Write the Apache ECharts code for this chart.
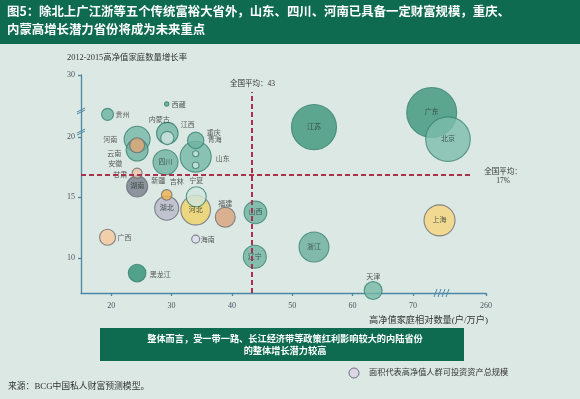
<!DOCTYPE html>
<html>
<head>
<meta charset="utf-8">
<script src="https://cdn.jsdelivr.net/npm/echarts@6/dist/echarts.min.js"></script>
<style>
  html, body { margin: 0; padding: 0; background: #dbe8e3; }
  #main { width: 580px; height: 399px; }
</style>
</head>
<body>
<div id="main"></div>
<script>
// data (x: households per 10k, y: growth %, asset: relative bubble area)
const provinces = ['广东','江苏','北京','山东','上海','浙江','河北','河南','四川','湖北','辽宁','山西','云南','新疆','湖南','宁夏','福建','天津','黑龙江','江西','广西','安徽','内蒙古','贵州','吉林','甘肃','海南','重庆','青海','西藏'];
const xVals  = [73.1, 53.6, 75.8, 34.0, 74.4, 53.6, 34.0, 24.3, 29.0, 29.2, 43.8, 43.9, 24.3, 29.3, 24.3, 34.1, 38.9, 63.4, 24.3, 34.0, 19.4, 24.3, 29.3, 19.4, 29.2, 24.3, 34.0, 34.0, 34.0, 29.2];
const yVals  = [22.0, 20.8, 19.8, 18.35, 13.1, 10.9, 13.95, 19.8, 17.9, 14.1, 10.1, 13.75, 18.9, 20.3, 15.9, 15.05, 13.35, 7.3, 8.75, 19.7, 11.7, 19.3, 19.9, 21.85, 15.2, 17.0, 11.55, 17.65, 18.6, 22.7];
const assets = [156, 127, 124, 60, 60, 56, 55, 42, 39, 36, 33, 32, 30, 29, 27.6, 25, 25, 20, 19.4, 17, 16, 14, 11, 9, 7, 6.3, 4, 2.7, 2.3, 1.2];

const xTicks = [20, 30, 40, 50, 60, 70, 82.1];
const xTickLabels = ['20', '30', '40', '50', '60', '70', '260'];
const yTicks = [10, 15, 20, 25.1];
const yTickLabels = ['10', '15', '20', '30'];
const avgX = 43.3;
const avgY = 16.85;

const fills = {
  '贵州':'#6cb3a0','西藏':'#5aa69a','河南':'#74b7a5','云南':'#6fb2a0','安徽':'#e3a877','甘肃':'#eec3a8',
  '湖南':'#7b7e8b','内蒙古':'#cfe4de','新疆':'#73b6a4','江西':'#6fb4a2','青海':'#cde4dd','重庆':'#cde4dd',
  '山东':'#74b7a5','四川':'#6fb3a0','吉林':'#f1b04c','湖北':'#bab9ca','宁夏':'#d0e6df','河北':'#f0d167',
  '福建':'#d8a17b','海南':'#dedcee','广西':'#f8c89c','黑龙江':'#2f8e72','山西':'#6db19f','辽宁':'#6fb3a0',
  '浙江':'#6aae9b','天津':'#76b8a6','江苏':'#3c9479','广东':'#3c9479','北京':'#7dbdab','上海':'#f8d47c'
};
const greyEdge = ['安徽','甘肃','湖南','吉林','湖北','河北','福建','海南','广西','上海'];
const insideLabel = ['湖南','四川','湖北','河北','山西','辽宁','浙江','江苏','广东','北京','上海'];
const labelOffsets = {
  '贵州':[15,1],'西藏':[12,1],'河南':[-27,1],'云南':[-23,4],'安徽':[-22,19],'甘肃':[-17,2],
  '内蒙古':[-8,-18],'新疆':[-9,48],'江西':[-8,-15],'青海':[19,-14],'重庆':[18,-32],'山东':[27,2],
  '吉林':[10,-13],'宁夏':[0,-16],'福建':[0,-13],'海南':[12,1],'广西':[17,1],'黑龙江':[23,2],'天津':[0,-13]
};

const FONT = "'Liberation Serif', 'Noto Sans CJK SC'";

const bubbles = provinces.map((name, i) => {
  const item = {
    name: name,
    value: [xVals[i], yVals[i], assets[i]],
    itemStyle: {
      color: fills[name],
      borderColor: greyEdge.includes(name) ? '#6a6c74' : '#3a8272',
      borderWidth: 1.1
    }
  };
  if (insideLabel.includes(name)) {
    item.label = { show: true, position: 'inside', color: '#2b3b35' };
  } else {
    item.label = { show: true, position: 'inside', offset: labelOffsets[name], color: '#333' };
  }
  return item;
});

function pickLabel(ticks, labels, v) {
  let best = 0;
  ticks.forEach((t, i) => { if (Math.abs(t - v) < Math.abs(ticks[best] - v)) best = i; });
  return labels[best];
}

const axisColor = '#4d87a6';
const chart = echarts.init(document.getElementById('main'));
chart.setOption({
  backgroundColor: '#dbe8e3',
  animation: false,
  grid: { left: 81, right: 94, top: 75, bottom: 106 },
  xAxis: {
    type: 'value',
    min: 15,
    max: 82.1,
    splitLine: { show: false },
    axisLine: { lineStyle: { color: axisColor, width: 1.3 } },
    axisTick: { customValues: xTicks, length: 3, lineStyle: { color: axisColor, width: 1.3 } },
    axisLabel: {
      customValues: xTicks, margin: 9, fontSize: 8, color: '#4b5660', fontFamily: FONT,
      formatter: v => pickLabel(xTicks, xTickLabels, v)
    }
  },
  yAxis: {
    type: 'value',
    min: 7.1,
    max: 25.1,
    splitLine: { show: false },
    axisLine: { show: true, lineStyle: { color: axisColor, width: 1.3 } },
    axisTick: { show: true, customValues: yTicks, length: 3, lineStyle: { color: axisColor, width: 1.3 } },
    axisLabel: {
      customValues: yTicks, margin: 6, fontSize: 8, color: '#4b5660', fontFamily: FONT,
      formatter: v => pickLabel(yTicks, yTickLabels, v)
    }
  },
  series: [{
    type: 'scatter',
    data: bubbles,
    symbolSize: d => 4 * Math.sqrt(d[2]),
    label: { fontSize: 7, fontFamily: FONT, formatter: '{b}' },
    emphasis: { disabled: true },
    markLine: {
      silent: true,
      symbol: 'none',
      label: { show: false },
      lineStyle: { color: '#a8324e', width: 2, type: [5, 3] },
      data: [
        [{ coord: [avgX, 7.1] }, { coord: [avgX, 23.7] }],
        [{ coord: [15, avgY] }, { coord: [79.85, avgY] }]
      ]
    }
  }],
  graphic: [
    { type: 'rect', left: 0, top: 0, shape: { width: 580, height: 44 }, style: { fill: '#0e6b4f' }, z: -1 },
    { type: 'text', left: 7, top: 5, style: { text: '图5：除北上广江浙等五个传统富裕大省外，山东、四川、河南已具备一定财富规模，重庆、', fill: '#fff', font: "bold 12.4px 'Noto Sans CJK SC'" } },
    { type: 'text', left: 7, top: 23, style: { text: '内蒙高增长潜力省份将成为未来重点', fill: '#fff', font: "bold 12.4px 'Noto Sans CJK SC'" } },
    { type: 'text', left: 67, top: 54, style: { text: '2012-2015高净值家庭数量增长率', fill: '#333', font: "8.4px " + FONT } },
    { type: 'text', left: 230, top: 80, style: { text: '全国平均：43', fill: '#333', font: "7.5px " + FONT } },
    { type: 'text', x: 503, y: 168, style: { text: '全国平均：\n17%', fill: '#333', font: "7.5px " + FONT, textAlign: 'center', lineHeight: 9 } },
    { type: 'text', right: 92, top: 316, style: { text: '高净值家庭相对数量(户/万户)', fill: '#333', font: "9.2px " + FONT } },
    // axis break marks
    { type: 'line', shape: { x1: 77, y1: 112, x2: 85, y2: 108 }, style: { stroke: axisColor, lineWidth: 1 } },
    { type: 'line', shape: { x1: 77, y1: 114, x2: 85, y2: 110 }, style: { stroke: axisColor, lineWidth: 1 } },
    { type: 'line', shape: { x1: 77, y1: 133, x2: 85, y2: 129 }, style: { stroke: axisColor, lineWidth: 1 } },
    { type: 'line', shape: { x1: 77, y1: 135, x2: 85, y2: 131 }, style: { stroke: axisColor, lineWidth: 1 } },
    { type: 'line', shape: { x1: 434, y1: 297, x2: 437, y2: 289 }, style: { stroke: axisColor, lineWidth: 1 } },
    { type: 'line', shape: { x1: 438, y1: 297, x2: 441, y2: 289 }, style: { stroke: axisColor, lineWidth: 1 } },
    { type: 'line', shape: { x1: 442, y1: 297, x2: 445, y2: 289 }, style: { stroke: axisColor, lineWidth: 1 } },
    { type: 'line', shape: { x1: 446, y1: 297, x2: 449, y2: 289 }, style: { stroke: axisColor, lineWidth: 1 } },
    // summary box
    { type: 'rect', left: 100, top: 328, shape: { width: 364, height: 33 }, style: { fill: '#0e6b4f' } },
    { type: 'text', x: 285, y: 334, style: { text: '整体而言，受一带一路、长江经济带等政策红利影响较大的内陆省份', fill: '#fff', font: "bold 9.2px 'Noto Sans CJK SC'", textAlign: 'center' } },
    { type: 'text', x: 285, y: 346, style: { text: '的整体增长潜力较高', fill: '#fff', font: "bold 9.2px 'Noto Sans CJK SC'", textAlign: 'center' } },
    // size legend
    { type: 'circle', shape: { cx: 354, cy: 373, r: 5 }, style: { fill: '#dcd6e6', stroke: '#6e7078', lineWidth: 1 } },
    { type: 'text', left: 369, top: 369, style: { text: '面积代表高净值人群可投资资产总规模', fill: '#333', font: "8.2px " + FONT } },
    { type: 'text', left: 8, top: 382, style: { text: '来源：BCG中国私人财富预测模型。', fill: '#333', font: "8.8px " + FONT } }
  ]
});
</script>
</body>
</html>
